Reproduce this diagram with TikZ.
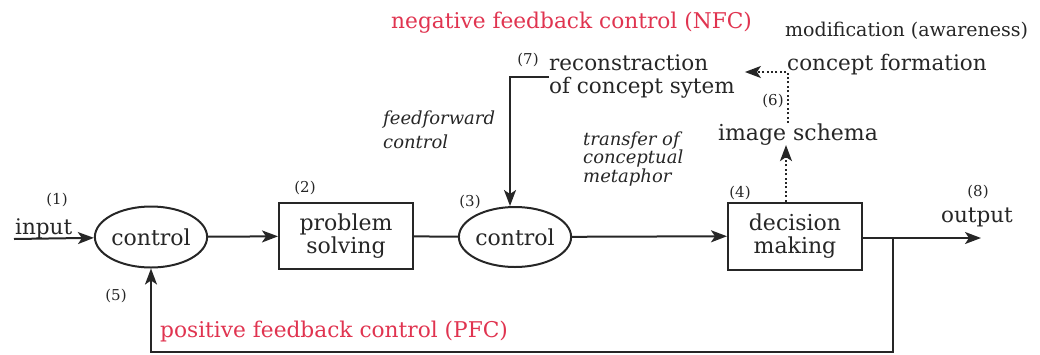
\documentclass[tikz,border=0pt]{standalone}
\usepackage{fontspec}
\setmainfont{DejaVu Serif}
\usetikzlibrary{arrows,arrows.meta,positioning,shapes.geometric}

\definecolor{ink}{RGB}{38,38,38}
\definecolor{fbred}{RGB}{224,52,80}

\tikzset{
  ctrl/.style={draw=ink, line width=2pt, ellipse, inner sep=0pt, text=ink,
    font=\fontsize{22}{24}\selectfont},
  stage/.style={draw=ink, line width=2pt, align=center, inner sep=0pt, text=ink,
    font=\fontsize{22}{23}\selectfont},
  num/.style={inner sep=0pt, text=ink, font=\fontsize{15}{16}\selectfont},
  label/.style={inner sep=0pt, text=ink, align=left, font=\fontsize{21.5}{23}\selectfont},
  note/.style={inner sep=0pt, text=ink, align=left, font=\fontsize{18}{17}\itshape},
  fbtitle/.style={inner sep=0pt, text=fbred, font=\fontsize{21.7}{23}\selectfont},
  wire/.style={draw=ink, line width=2pt},
  dots/.style={draw=ink, line width=2pt, dash pattern=on 2pt off 2.4pt},
  tip/.style={-{Stealth[length=16pt, width=12pt, inset=4pt]}}
}

\begin{document}
\begin{tikzpicture}[x=1pt, y=-1pt]
  \useasboundingbox (0,0) rectangle (1040,354);

  % main chain
  \node[ctrl, minimum width=112pt, minimum height=61pt] (c1) at (151,237) {control};
  \node[stage, minimum width=134pt, minimum height=66pt] (ps) at (346,236) {problem\\solving};
  \node[ctrl, minimum width=105pt, minimum height=60pt] (c2) at (515,237) {control};
  \node[stage, minimum width=134pt, minimum height=67pt] (dm) at (795,236) {decision\\making};

  \node[num] (n1) at (57,200) {(1)};
  \node[num] (n2) at (305,188) {(2)};
  \node[num] (n3) at (470,202) {(3)};
  \node[num] (n4) at (740,193) {(4)};
  \node[num] (n5) at (116,296) {(5)};
  \node[num] (n6) at (773,101) {(6)};
  \node[num] (n7) at (528,60) {(7)};
  \node[num] (n8) at (978,192) {(8)};

  % input / output
  \node[label, anchor=base west] (intxt) at (15,234) {input};
  \coordinate (inp) at (14,239);
  \draw[wire,tip] (inp) -- (c1);
  \draw[wire,tip] (c1) -- (ps);
  \draw[wire] (ps) -- (c2);
  \draw[wire,tip] (c2) -- (dm);
  \node[label, anchor=base] (outtxt) at (977,222) {output};
  \coordinate (outp) at (981,238);
  \draw[wire,tip] (dm.east |- outp) -- (outp);

  % positive feedback loop
  \coordinate (split) at (893,238);
  \coordinate (loopr) at (893,352);
  \draw[wire,tip] (split) -- (loopr) -| (c1.south);
  \node[fbtitle, anchor=base west] (pfc) at (160,337) {positive feedback control (PFC)};

  % negative feedback / feedforward
  \node[fbtitle, anchor=base west] (nfc) at (391,28) {negative feedback control (NFC)};
  \node[label, anchor=west] (rc) at (549,76) {reconstraction\\of concept sytem};
  \coordinate (ffc) at (510,77);
  \draw[wire,tip] (rc.west |- ffc) -- (ffc) -- (ffc |- c2.north);
  \node[note, anchor=base west, font=\fontsize{18}{24}\itshape] (ff) at (383,148) {feedforward\\control};
  \node[note, anchor=base west] (tcm) at (583,182) {transfer of\\conceptual\\metaphor};

  % image schema and concept formation
  \node[label, anchor=base, font=\fontsize{22}{24}\selectfont] (is) at (798,140) {image schema};
  \draw[dots,tip] ([xshift=-9pt]dm.north) -- ([xshift=-12pt]is.south);
  \node[label, anchor=base west] (cf) at (787,70) {concept formation};
  \node[label, anchor=base west, font=\fontsize{19}{20}\selectfont] (mod) at (785,36) {modification (awareness)};
  \draw[dots,tip] ([xshift=-10pt]is.north) |- ([xshift=10pt, yshift=4pt]rc.east);
\end{tikzpicture}
\end{document}
